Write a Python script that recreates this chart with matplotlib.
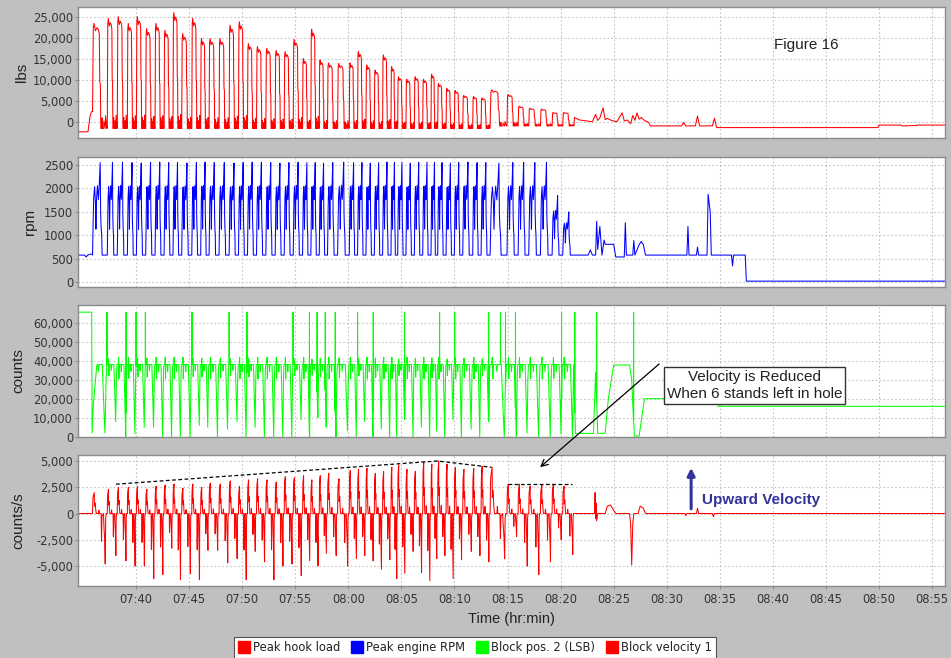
import numpy as np
import matplotlib
matplotlib.use("Agg")
import matplotlib.pyplot as plt
from matplotlib.ticker import FixedLocator, FuncFormatter
from matplotlib.lines import Line2D

# ---------------- data (time in minutes after 07:00) ----------------
x_ticks = [40, 45, 50, 55, 60, 65, 70, 75, 80, 85, 90, 95, 100, 105, 110, 115]
x_range = [34.53, 116.22]

# start of each trip cycle (hook-load rise)
cycle_start = [35.90, 37.29, 38.23, 39.18, 40.03, 40.91, 41.79, 42.64, 43.48, 44.30,
               45.25, 46.09, 46.88, 47.82, 48.77, 49.65, 50.50, 51.35, 52.23, 53.11,
               53.96, 54.81, 55.69, 56.47, 57.26, 58.04, 58.99, 60.09, 60.87, 61.66,
               62.45, 63.23, 64.02, 64.65, 65.43, 66.22, 67.01, 67.79, 68.42, 69.21,
               69.99, 70.78, 71.72, 72.51, 73.36, 74.95, 76.00, 77.00, 78.10, 79.20,
               80.20]
cycle_end = 81.30

hook_peak = [23400, 24600, 25000, 23400, 25000, 22200, 23400, 21800, 26000, 21000,
             24600, 19800, 19800, 19800, 23000, 23800, 18600, 17900, 17500, 17000,
             16700, 19600, 15000, 22000, 14700, 14000, 13900, 14000, 16700, 13500,
             12300, 15900, 13100, 10700, 10100, 10700, 10100, 11300, 9100, 7900,
             7400, 6300, 6000, 5700, 7600, 6500, 3700, 3200, 3000, 2200,
             2200]
hook_low_main = -1600
hook_low_late = -1000

rpm_peak = [2550, 2550, 2560, 2550, 2540, 2550, 2560, 2550, 2550, 2540,
            2550, 2560, 2550, 2550, 2540, 2550, 2560, 2550, 2550, 2540,
            2550, 2560, 2550, 2550, 2540, 2550, 2560, 2550, 2550, 2540,
            2550, 2560, 2550, 2550, 2540, 2550, 2560, 2550, 2550, 2540,
            2550, 2560, 2550, 2550, 2540, 2550, 2550, 2550, 2550, 1850,
            1500]
rpm_base = 580

vel_up = [2000, 2300, 2500, 2500, 2600, 2300, 2600, 2700, 2800, 2400,
          2800, 2500, 2900, 2800, 3100, 2600, 3200, 3300, 3200, 3000,
          3500, 3400, 3600, 3200, 3600, 3800, 3300, 4100, 4200, 4300,
          3800, 4000, 4400, 4600, 4200, 4000, 4900, 4700, 5000, 4700,
          4400, 4200, 4300, 4500, 4400, 2800, 2800, 2600, 2700, 2800,
          2600]
vel_down = [-4800, -4000, -4500, -5000, -5000, -6200, -5800, -3300, -6300, -5700,
            -6300, -3500, -3500, -4700, -4300, -6300, -3600, -4600, -6300, -5000,
            -4800, -5900, -4500, -5000, -3800, -4000, -5000, -4300, -4000, -4500,
            -5300, -4400, -6200, -5700, -3600, -5600, -6400, -4300, -4000, -6200,
            -4400, -3600, -4000, -4600, -4300, -2200, -5000, -5800, -4600, -2500,
            -3900]

pos_top = 38000
pos_low = [2000, 8000, 0, 1500, 5000, 5000, 0, 0, 0, 0,
           6000, 5000, 0, 4000, 8000, 0, 5000, 0, 0, 0,
           0, 9000, 0, 10000, 5000, 0, 3000, 0, 8000, 0,
           4000, 0, 0, 9000, 0, 5000, 0, 3000, 0, 9000,
           0, 4000, 0, 8000, 0, 0, 2000, 0, 0, 1500,
           0]
pos_wrap = 65535
pos_spike_times = [37.26, 39.06, 40.00, 40.88, 45.27, 48.77, 50.45, 54.79, 56.34, 57.06,
                   57.83, 58.77, 60.87, 62.35, 65.30, 68.60, 70.02, 73.22, 74.34, 74.81,
                   75.75, 80.09, 81.34, 83.40, 86.88]

# before / after the tripping cycles
hook_head_t = [34.53, 35.47, 35.66, 35.80, 35.90]
hook_head_v = [-2400, -2400, 1200, 2400, 2400]
hook_tail_t = [81.30, 81.80, 82.40, 83.00, 83.30, 83.50, 83.70, 84.00, 84.20, 84.40,
               84.80, 85.30, 85.80, 86.00, 86.30, 86.60, 86.80, 87.00, 87.20, 87.40,
               87.60, 87.90, 88.30, 88.45, 91.40, 91.60, 91.80, 92.70, 92.90, 93.10,
               94.30, 94.50, 94.70, 94.90, 109.90, 110.00, 112.00, 112.20, 113.50, 113.70,
               116.30]
hook_tail_v = [1000, 400, 200, 0, 1750, 300, 900, 3300, 500, 800,
               300, 0, 2100, 200, 400, -500, 1500, 300, 2100, 600,
               1000, 300, -200, -1000, -1000, -200, -1000, -1000, 1350, -1000,
               -1000, 800, -1400, -1400, -1400, -800, -800, -1000, -900, -800,
               -800]

rpm_head_t = [34.53, 35.15, 35.30, 35.45, 35.70, 35.88]
rpm_head_v = [580, 580, 540, 580, 600, 600]
rpm_tail_t = [81.30, 82.60, 82.80, 83.00, 83.30, 83.40, 83.50, 83.70, 83.90, 84.10,
              84.20, 85.00, 85.20, 86.00, 86.10, 86.20, 86.80, 86.90, 87.00, 87.40,
              87.60, 87.80, 88.00, 91.90, 92.00, 92.10, 92.80, 92.90, 93.00, 93.80,
              93.90, 94.10, 94.20, 96.10, 96.20, 96.30, 97.40, 97.50, 116.30]
rpm_tail_v = [580, 580, 690, 580, 580, 1300, 700, 1190, 580, 900,
              810, 810, 540, 540, 1270, 580, 580, 890, 580, 800,
              870, 800, 580, 580, 1190, 580, 580, 750, 580, 580,
              1875, 1500, 580, 580, 350, 580, 580, 25, 25]

pos_head_t = [34.53, 35.82, 35.86, 35.95, 36.10, 36.30]
pos_head_v = [65535, 65535, 2000, 15000, 25000, 37500]
pos_tail_t = [81.30, 81.40, 83.10, 83.30, 83.50, 84.20, 84.50, 85.00, 86.50, 86.70,
              86.95, 87.40, 87.90, 94.80, 94.85, 116.30]
pos_tail_v = [20000, 1750, 1750, 34000, 1750, 1750, 20000, 37700, 37700, 30000,
              350, 350, 20000, 20000, 16000, 16000]

vel_head_t = [34.53, 35.88]
vel_head_v = [0, 0]
vel_tail_t = [81.30, 83.20, 83.25, 83.30, 83.35, 83.40, 83.50, 84.20, 84.40, 84.70,
              85.00, 85.20, 86.50, 86.60, 86.70, 86.80, 86.90, 87.30, 87.50, 87.80,
              88.00, 91.70, 91.80, 91.90, 92.80, 92.90, 93.00, 94.30, 94.40, 94.50,
              116.30]
vel_tail_v = [0, 0, 2000, -500, 1000, -700, 0, 0, 700, 800,
              300, 0, 0, -1000, -4900, -1000, 0, 0, 700, 500,
              0, 0, -200, 0, 0, 500, 0, 0, -300, 0,
              0]

# dashed peak-velocity envelopes
env1_t = [38.11, 68.40, 73.50]
env1_v = [2790, 5000, 4400]
env2_t = [75.00, 81.10]
env2_v = [2790, 2790]

# cycle shape templates (phase within a cycle -> fraction)
hook_phase = [0.00, 0.02, 0.05, 0.10, 0.20, 0.30, 0.40, 0.46, 0.49, 0.53, 0.56, 0.62, 0.64,
              0.66, 0.75, 0.77, 0.86, 0.88, 0.97]
hook_frac = [0.00, 0.45, 0.95, 1.00, 0.93, 0.96, 0.94, 0.90, 0.45, 0.42, 0.00, 0.00, 0.10,
             0.00, 0.00, 0.07, 0.00, 0.12, 0.00]
rpm_phase = [0.00, 0.04, 0.08, 0.14, 0.20, 0.23, 0.27, 0.33, 0.40, 0.46, 0.52, 0.55, 0.58,
             0.62, 0.65]
rpm_frac = [0.00, 0.35, 0.62, 0.74, 0.55, 0.28, 0.60, 0.75, 0.60, 0.78, 1.00, 0.45, 0.30,
            0.22, 0.00]
vel_phase = [0.00, 0.02, 0.04, 0.12, 0.13, 0.18, 0.22, 0.26, 0.40, 0.43, 0.46, 0.58, 0.61,
             0.64, 0.74, 0.78, 0.82, 0.86, 0.89, 0.93]
vel_up_frac = [0, 0.6, 0.8, 1.0, 0.35, 0.5, 0.15, 0, 0, 0.15, 0, 0, 0, 0, 0, 0, 0, 0, 0, 0]
vel_dn_frac = [0, 0, 0, 0, 0, 0, 0, 0, 0, 0, 0, 0, 0.55, 0.05, 0, 0.3, 0.5, 1.0, 0.1, 0]
pos_phase = [0.00, 0.10, 0.13, 0.16, 0.20, 0.35, 0.40, 0.44, 0.50, 0.66, 0.72, 0.78, 0.84,
             0.88, 0.92, 0.97]
pos_drop = [0, 0, -0.1, 0.2, 0, 0, 0.1, 0, 0, 0, 0.35, 0.7, 1.0, 0.6, 0.2, 0]


def build(head_t, head_v, tail_t, tail_v, phase, value_fn):
    bounds = cycle_start + [cycle_end]
    ts, vs = [], []
    for i in range(len(cycle_start)):
        t0, t1 = bounds[i], bounds[i + 1]
        for ph, val in zip(phase, value_fn(i)):
            t = t0 + ph * (t1 - t0)
            if head_t[-1] < t < tail_t[0]:
                ts.append(t)
                vs.append(val)
    return (np.array(head_t + ts + tail_t, float), np.array(head_v + vs + tail_v, float))


def hook_vals(i):
    low = hook_low_main if cycle_start[i] < 73 else hook_low_late
    return [low + f * (hook_peak[i] - low) for f in hook_frac]


def rpm_vals(i):
    return [rpm_base + f * (rpm_peak[i] - rpm_base) for f in rpm_frac]


def vel_vals(i):
    return [fu * vel_up[i] + fd * vel_down[i] for fu, fd in zip(vel_up_frac, vel_dn_frac)]


def pos_vals(i):
    return [pos_top - g * (pos_top - pos_low[i]) for g in pos_drop]


hook_t, hook_v = build(hook_head_t, hook_head_v, hook_tail_t, hook_tail_v, hook_phase, hook_vals)
rpm_t, rpm_v = build(rpm_head_t, rpm_head_v, rpm_tail_t, rpm_tail_v, rpm_phase, rpm_vals)
vel_t, vel_v = build(vel_head_t, vel_head_v, vel_tail_t, vel_tail_v, vel_phase, vel_vals)
pos_t, pos_v = build(pos_head_t, pos_head_v, pos_tail_t, pos_tail_v, pos_phase, pos_vals)

# counter wrap-around spikes
sp_t, sp_v = [], []
for ts in pos_spike_times:
    v0 = float(np.interp(ts, pos_t, pos_v))
    sp_t += [ts - 0.012, ts, ts + 0.012]
    sp_v += [v0, pos_wrap, v0]
pos_t = np.concatenate([pos_t, sp_t])
pos_v = np.concatenate([pos_v, sp_v])
order = np.argsort(pos_t, kind="stable")
pos_t, pos_v = pos_t[order], pos_v[order]

# ---------------- figure ----------------
W, H = 951, 658
BG = "#c0c0c0"
fig = plt.figure(figsize=(W / 100, H / 100), dpi=100, facecolor=BG)


def rect(top, bottom, left=78, right=945):
    return [left / W, 1 - bottom / H, (right - left) / W, (bottom - top) / H]


ax1 = fig.add_axes(rect(7, 138))
ax2 = fig.add_axes(rect(157, 287))
ax3 = fig.add_axes(rect(305, 437))
ax4 = fig.add_axes(rect(455, 586))

comma = FuncFormatter(lambda v, p: f"{int(round(v)):,}")
plain = FuncFormatter(lambda v, p: f"{int(round(v))}")
hhmm = FuncFormatter(lambda m, p: f"{7 + int(m // 60):02d}:{int(round(m % 60)):02d}")

settings = [
    (ax1, (-3880, 27310), [0, 5000, 10000, 15000, 20000, 25000], comma, "lbs", 22),
    (ax2, (-100, 2670), [0, 500, 1000, 1500, 2000, 2500], plain, "rpm", 30),
    (ax3, (-160, 69300), [0, 10000, 20000, 30000, 40000, 50000, 60000], comma, "counts", 18),
    (ax4, (-6900, 5570), [-5000, -2500, 0, 2500, 5000], comma, "counts/s", 18),
]
for ax, ylim, yt, fmt, lab, lx in settings:
    ax.set_facecolor("white")
    ax.set_xlim(*x_range)
    ax.set_ylim(*ylim)
    ax.xaxis.set_major_locator(FixedLocator(x_ticks))
    ax.yaxis.set_major_locator(FixedLocator(yt))
    ax.yaxis.set_major_formatter(fmt)
    ax.xaxis.set_major_formatter(hhmm)
    ax.grid(True, color="#c4c4c4", linestyle=(0, (1.5, 2.0)), linewidth=0.8)
    ax.set_axisbelow(True)
    for s in ax.spines.values():
        s.set_color("#8a8a8a")
        s.set_linewidth(1.0)
    ax.tick_params(axis="y", length=2, width=0.8, color="#8a8a8a", pad=1.5,
                   labelsize=8.3, labelcolor="#333333")
    ax.tick_params(axis="x", length=2, width=0.8, color="#8a8a8a", pad=3,
                   labelsize=8.3, labelcolor="#333333")
    ax.set_ylabel(lab, fontsize=11, family="Liberation Sans", color="#222222")
    bb = ax.get_position()
    ax.yaxis.set_label_coords((lx / W - bb.x0) / bb.width, 0.5)
    ax.yaxis.label.set(ha="center", va="center", rotation_mode="anchor")

for ax in (ax1, ax2, ax3):
    ax.tick_params(axis="x", labelbottom=False, length=0)

LW = 0.75
ax1.plot(hook_t, hook_v, color="#ff0000", lw=LW)
ax2.plot(rpm_t, rpm_v, color="#0000ff", lw=LW)
ax3.plot(pos_t, pos_v, color="#00ff00", lw=LW)
ax4.plot(vel_t, vel_v, color="#ff0000", lw=LW)

ax4.plot(env1_t, env1_v, color="black", lw=0.9, linestyle=(0, (3, 2)))
ax4.plot(env2_t, env2_v, color="black", lw=0.9, linestyle=(0, (3, 2)))

ax4.set_xlabel("Time (hr:min)", fontsize=10.5, family="Liberation Sans", color="#222222",
               labelpad=4)

ax1.text(103.13, 18260, "Figure 16", ha="center", va="center", fontsize=11,
         family="Liberation Sans", color="#222222")

# annotation box + arrow
ax3.text(98.28, 26900, "Velocity is Reduced\nWhen 6 stands left in hole", ha="center",
         va="center", fontsize=11, family="Liberation Sans", color="#222222",
         linespacing=1.2, zorder=10,
         bbox=dict(boxstyle="square,pad=0.2", facecolor="white", edgecolor="#333333",
                   linewidth=1.0))
ax4.annotate("", xy=(78.07, 4410), xycoords="data",
             xytext=(89.28, 38260), textcoords=ax3.transData,
             arrowprops=dict(arrowstyle="->", color="black", lw=0.9, mutation_scale=12,
                             shrinkA=0, shrinkB=0),
             annotation_clip=False, zorder=10)

# upward velocity arrow
ax4.annotate("", xy=(92.3, 4350), xytext=(92.3, 450),
             arrowprops=dict(arrowstyle="-|>", color="#333399", lw=2.2, mutation_scale=11,
                             shrinkA=0, shrinkB=0))
ax4.text(93.3, 1270, "Upward Velocity", ha="left", va="center", fontsize=11,
         fontweight="bold", family="Liberation Sans", color="#333399")

handles = [Line2D([], [], marker="s", linestyle="none", markersize=8, color=c)
           for c in ("#ff0000", "#0000ff", "#00ff00", "#ff0000")]
labels = ["Peak hook load", "Peak engine RPM", "Block pos. 2 (LSB)", "Block velocity 1"]
leg = fig.legend(handles, labels, loc="center", bbox_to_anchor=(475 / W, 1 - 647.5 / H),
                 ncol=4, fontsize=8.3, frameon=True, fancybox=False, framealpha=1,
                 edgecolor="#555555", handletextpad=0.3, columnspacing=0.95,
                 borderpad=0.35, handlelength=1.0, borderaxespad=0)
leg.get_frame().set_linewidth(0.8)
for t in leg.get_texts():
    t.set_color("#222222")

fig.savefig("out.png", dpi=100, facecolor=BG)
